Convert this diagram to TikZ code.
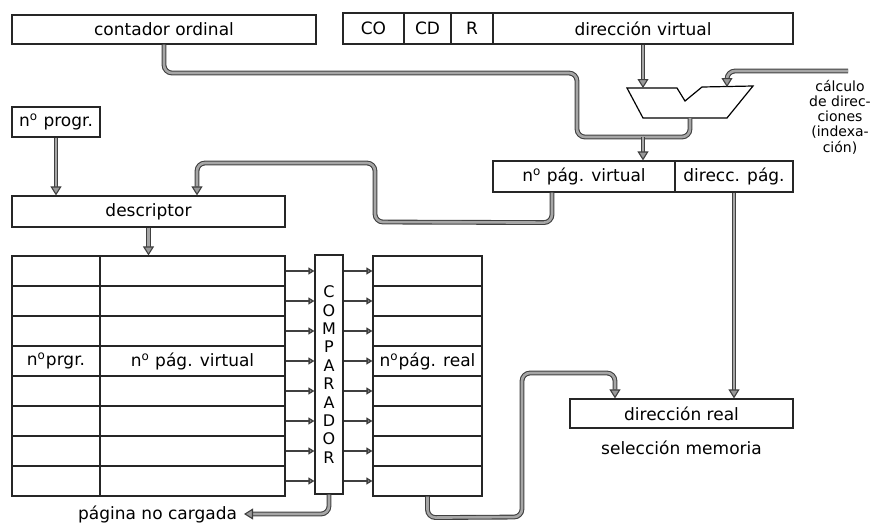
\documentclass[tikz,border=0pt]{standalone}
\usepackage{fontspec}
\setmainfont{DejaVu Sans}
\usetikzlibrary{arrows.meta}
\tikzset{
  box/.style={draw=black!85, line width=0.6pt, inner sep=0pt, minimum height=15.5pt},
  cell/.style={box, minimum height=15pt},
  pipe/.style={draw=black!75, line width=0.55pt, double=black!35, double distance=1.3pt, rounded corners=4pt},
  tip/.style={-{Triangle[width=5.5pt,length=4.5pt,fill=black!40]}},
  tick/.style={draw=black!75, line width=0.7pt, -{Triangle[width=3.5pt,length=3pt,fill=black!40]}},
}
\begin{document}
\begin{tikzpicture}[x=0.5pt,y=-0.5pt,font=\fontsize{8.5}{10}\selectfont]
\useasboundingbox (0,0) rectangle (875,526);

% registros de arriba
\node[box, minimum width=152pt, minimum height=14.5pt] (cont) at (164,29.5) {contador ordinal};
\node[box, minimum width=30.5pt] (co) at (373.5,28.5) {CO};
\node[box, minimum width=23.5pt] (cd) at (427.5,28.5) {CD};
\node[box, minimum width=21pt] (r) at (472,28.5) {R};
\node[box, minimum width=150pt] (dv) at (643,28.5) {dirección virtual};

% sumador
\draw[line width=0.6pt] (627,88) -- (677,88) -- (685,101) -- (702,87) -- (753,86)
  -- (727,118) -- (643,118) -- cycle;
\coordinate (addin1) at (643,88);
\coordinate (addin2) at (727,87);
\coordinate (addout) at (690,118);
\coordinate (merge) at (643,137);
\coordinate (calcin) at (848,71);

\node[align=center, inner sep=0pt, font=\fontsize{7}{7.6}\selectfont] (calc) at (840,117)
  {cálculo\\de direc-\\ciones\\(indexa-\\ción)};

\node[box, minimum width=91pt] (npv) at (584,176.5) {n\textsuperscript{o} pág. virtual};
\node[box, minimum width=59pt] (dpag) at (734,176.5) {direcc. pág.};

\node[box, minimum width=44pt, minimum height=15pt] (nprog) at (56,122) {n\textsuperscript{o} progr.};
\node[box, minimum width=136.5pt] (desc) at (148.5,211.5) {descriptor};

% tablas
\foreach \i in {1,...,8} {
  \node[cell, minimum width=44pt] (l\i) at (56,241+30*\i) {};
  \node[cell, minimum width=92.5pt] (v\i) at (192.5,241+30*\i) {};
  \node[cell, minimum width=54.5pt] (p\i) at (427.5,241+30*\i) {};
}
\node (tprog) at (l4) {n\textsuperscript{o}prgr.};
\node (tvirt) at (v4) {n\textsuperscript{o} pág. virtual};
\node (treal) at (p4) {n\textsuperscript{o}pág. real};

\node[box, minimum width=14pt, minimum height=119.5pt, align=center,
  font=\fontsize{8}{9.2}\selectfont] (cmp) at (329,374.5) {C\\O\\M\\P\\A\\R\\A\\D\\O\\R};

\node[box, minimum width=111.5pt, minimum height=14.5pt] (dreal) at (681.5,413.5) {dirección real};
\node (selmem) at (681.5,448) {selección memoria};
\node[anchor=east] (nocarg) at (244,514) {página no cargada};

% conexiones
\draw[pipe,tip] (dv.south) -- (addin1);
\draw[pipe,tip] (calcin) -- (727,71) -- (addin2);
\draw[pipe] (cont.south) -- (164,73) -- (577,73) -- (577,137) -- (merge);
\draw[pipe] (addout) |- (merge);
\draw[pipe,tip] (merge) -- (merge |- npv.north);
\draw[pipe,tip] ([xshift=-16pt]npv.south) -- ++(0,30) -- (375,222) -- (375,163)
  -- (197,163) -- ([xshift=24.25pt]desc.north);
\draw[pipe,tip] (nprog.south) -- (desc.north -| nprog.south);
\draw[pipe,tip] (desc.south) -- (desc.south |- v1.north);
\draw[pipe,tip] (dpag.south) -- (dpag.south |- dreal.north);

\foreach \i in {1,...,8} {
  \draw[tick] (v\i.east) -- (v\i.east -| cmp.west);
  \draw[tick] (cmp.east |- p\i.west) -- (p\i.west);
}

\draw[pipe,tip] (cmp.south) |- (nocarg.east);
\coordinate (rr) at (615,373);
\draw[pipe,tip] (p8.south) -- ++(0,21) -- (522,517) -- (522,373) -- (rr) -- (rr |- dreal.north);
\end{tikzpicture}
\end{document}
